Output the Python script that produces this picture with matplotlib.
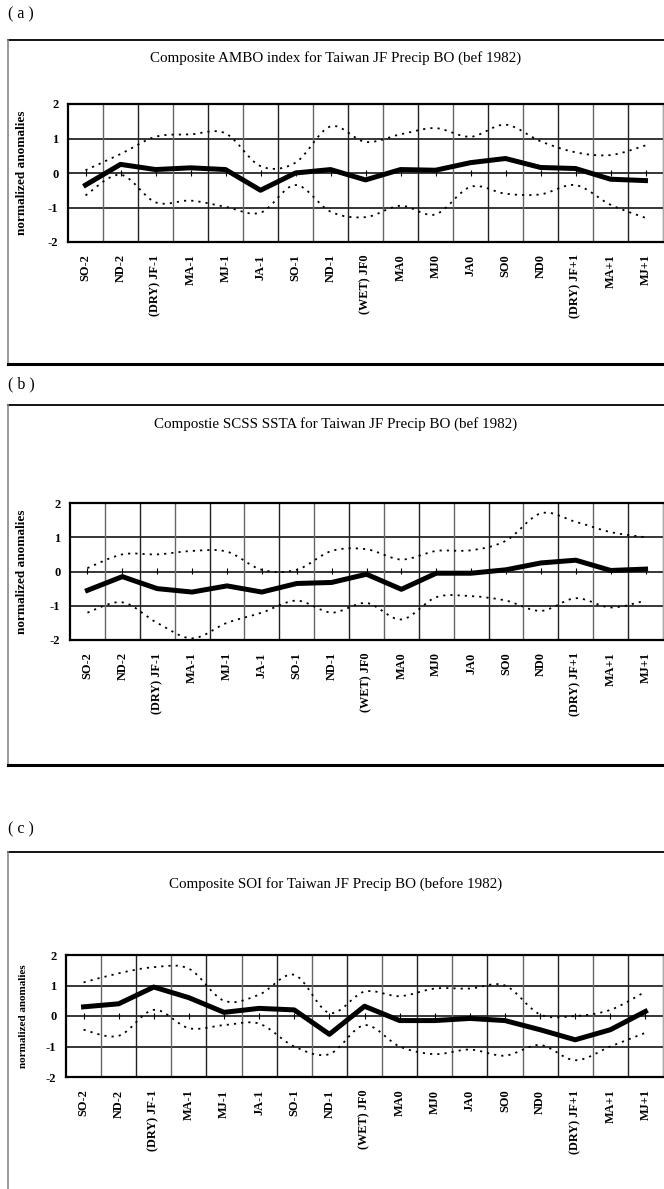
import matplotlib
matplotlib.use("Agg")
import matplotlib.pyplot as plt
from matplotlib.path import Path
from matplotlib.patches import PathPatch
from matplotlib.lines import Line2D

plt.rcParams['font.family'] = ['Liberation Serif', 'DejaVu Serif']

W, H = 664, 1189

# season labels along the x axis
seasons = ['SO-2', 'ND-2', '(DRY) JF-1', 'MA-1', 'MJ-1', 'JA-1', 'SO-1', 'ND-1',
           '(WET) JF0', 'MA0', 'MJ0', 'JA0', 'SO0', 'ND0', '(DRY) JF+1', 'MA+1', 'MJ+1']

# (a) AMBO index composite and its spread
ambo_mean = [-0.35, 0.25, 0.10, 0.15, 0.10, -0.50, 0.00, 0.10, -0.20, 0.10, 0.08,
             0.30, 0.42, 0.16, 0.13, -0.18, -0.22]
ambo_upper = [0.08, 0.55, 1.05, 1.12, 1.15, 0.20, 0.30, 1.35, 0.90, 1.12, 1.30,
              1.05, 1.40, 0.92, 0.60, 0.52, 0.80]
ambo_lower = [-0.65, -0.05, -0.85, -0.80, -0.98, -1.15, -0.35, -1.12, -1.28, -0.95, -1.20,
              -0.40, -0.60, -0.62, -0.35, -0.92, -1.30]

# (b) SCSS SSTA composite and its spread
ssta_mean = [-0.55, -0.15, -0.50, -0.60, -0.42, -0.60, -0.35, -0.32, -0.08, -0.52, -0.05,
             -0.05, 0.05, 0.25, 0.33, 0.03, 0.07]
ssta_upper = [0.10, 0.50, 0.50, 0.60, 0.58, 0.05, 0.05, 0.60, 0.65, 0.35, 0.60,
              0.62, 0.90, 1.70, 1.45, 1.15, 1.00]
ssta_lower = [-1.20, -0.90, -1.50, -1.95, -1.50, -1.20, -0.85, -1.20, -0.92, -1.40, -0.75,
              -0.72, -0.85, -1.15, -0.78, -1.05, -0.85]

# (c) SOI composite and its spread
soi_mean = [0.30, 0.40, 0.95, 0.60, 0.12, 0.25, 0.20, -0.60, 0.32, -0.15, -0.15,
            -0.08, -0.15, -0.45, -0.78, -0.45, 0.15]
soi_upper = [1.10, 1.40, 1.60, 1.55, 0.50, 0.70, 1.35, 0.10, 0.80, 0.65, 0.90,
             0.90, 1.00, 0.05, 0.00, 0.20, 0.80]
soi_lower = [-0.45, -0.65, 0.20, -0.40, -0.30, -0.25, -1.00, -1.25, -0.30, -1.00, -1.25,
             -1.10, -1.30, -0.95, -1.45, -1.00, -0.55]

titles = ['Composite AMBO index for Taiwan JF Precip BO (bef 1982)',
          'Compostie SCSS SSTA for Taiwan JF Precip BO (bef 1982)',
          'Composite SOI for Taiwan JF Precip BO (before 1982)']
tags = ['( a )', '( b )', '( c )']


def fx(px):
    return px / W


def fy(py):
    return 1 - py / H


def smooth_line(ax, xs, ys, **kw):
    # bezier curve through every point, like a spreadsheet "smoothed line"
    n = len(xs)
    verts = [(xs[0], ys[0])]
    codes = [Path.MOVETO]
    for i in range(n - 1):
        x0, y0 = xs[max(i - 1, 0)], ys[max(i - 1, 0)]
        x1, y1 = xs[i], ys[i]
        x2, y2 = xs[i + 1], ys[i + 1]
        x3, y3 = xs[min(i + 2, n - 1)], ys[min(i + 2, n - 1)]
        verts += [(x1 + (x2 - x0) / 6, y1 + (y2 - y0) / 6),
                  (x2 - (x3 - x1) / 6, y2 - (y3 - y1) / 6),
                  (x2, y2)]
        codes += [Path.CURVE4] * 3
    ax.add_patch(PathPatch(Path(verts, codes), fill=False, **kw))


fig = plt.figure(figsize=(W / 100, H / 100), dpi=100)
fig.patch.set_facecolor('white')

# panel layout in pixels: tag y, box top, box bottom, title y, plot left/top/bottom, label size
panels = [
    dict(tag_y=14, top=40, bottom=364, title_y=58, left=68, ptop=104, pbot=242, lab=9.5,
         mean=ambo_mean, upper=ambo_upper, lower=ambo_lower),
    dict(tag_y=384, top=405, bottom=765, title_y=424, left=70, ptop=503, pbot=640, lab=9.5,
         mean=ssta_mean, upper=ssta_upper, lower=ssta_lower),
    dict(tag_y=829, top=852, bottom=1200, title_y=884, left=66, ptop=955, pbot=1077, lab=8.0,
         mean=soi_mean, upper=soi_upper, lower=soi_lower),
]

xs = list(range(len(seasons)))

for k, p in enumerate(panels):
    # outer box of each panel
    fig.add_artist(Line2D([fx(8), fx(W + 5)], [fy(p['top'])] * 2, color='black', lw=1.3))
    fig.add_artist(Line2D([fx(8)] * 2, [fy(p['top']), fy(p['bottom'])], color='#888888', lw=1.2))
    fig.add_artist(Line2D([fx(8), fx(W + 5)], [fy(p['bottom'])] * 2, color='black', lw=2.2))
    fig.text(fx(8), fy(p['tag_y']), tags[k], fontsize=11.5, va='center', ha='left')
    fig.text(fx(336), fy(p['title_y']), titles[k], fontsize=10.8, va='center', ha='center')

    right = 663
    ax = fig.add_axes([fx(p['left']), fy(p['pbot']), fx(right - p['left']),
                       (p['pbot'] - p['ptop']) / H])
    ax.set_xlim(-0.5, len(seasons) - 0.5)
    ax.set_ylim(-2, 2)

    for v in [-1, 0, 1]:
        ax.axhline(v, color='black', lw=1.1, zorder=1)
    for i in range(len(seasons)):
        ax.axvline(i + 0.5, color='#222222' if i % 2 else '#666666', lw=1.0, zorder=1)

    smooth_line(ax, xs, p['upper'], edgecolor='black', lw=1.3, linestyle=(0, (1.2, 2.8)), zorder=2)
    smooth_line(ax, xs, p['lower'], edgecolor='black', lw=1.3, linestyle=(0, (1.2, 2.8)), zorder=2)
    ax.plot(xs, p['mean'], color='black', lw=3.6, solid_joinstyle='round', zorder=3)

    for side in ['left', 'bottom', 'top']:
        ax.spines[side].set_linewidth(1.6)
    ax.spines['right'].set_color('#aaaaaa')

    ax.set_yticks([-2, -1, 0, 1, 2])
    ax.set_yticklabels(['-2', '-1', '0', '1', '2'], fontsize=9, fontweight='bold')
    ax.tick_params(axis='y', length=0, pad=7)
    ax.set_xticks(xs)
    ax.set_xticklabels(seasons, rotation=90, fontsize=8.8, fontweight='bold')
    ax.tick_params(axis='x', length=0, pad=9)

    # small tick marks on the zero line
    zero = ax.secondary_xaxis(0.5)
    zero.set_xticks(xs)
    zero.tick_params(axis='x', direction='inout', length=5, width=0.8, labelbottom=False,
                     labeltop=False)
    zero.spines['top'].set_visible(False)
    zero.spines['bottom'].set_visible(False)

    ax.set_ylabel('normalized anomalies', fontsize=p['lab'], fontweight='bold')
    ax.yaxis.set_label_coords((28 - p['left']) / (right - p['left']), 0.5)

fig.savefig('out.png', dpi=100, facecolor='white')
